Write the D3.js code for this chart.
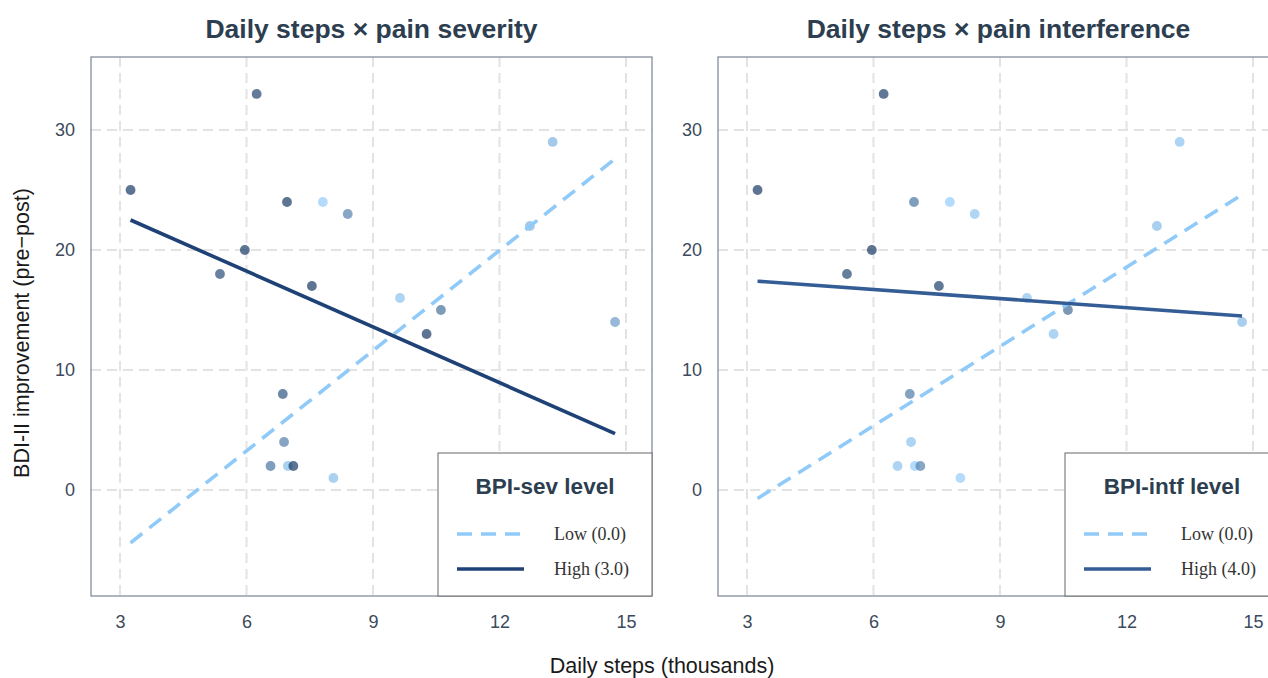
<!DOCTYPE html>
<html>
<head>
<meta charset="utf-8">
<script src="https://cdn.jsdelivr.net/npm/d3@7"></script>
<style>
  body { margin: 0; background: #fff; }
  svg { display: block; }
</style>
</head>
<body>
<svg width="1268" height="678"></svg>
<script>
// input data
const stepsK = [3.25, 5.37, 5.96, 6.24, 6.57, 6.86, 6.89, 6.96, 6.98, 7.11,
  7.55, 7.81, 8.06, 8.4, 9.64, 10.27, 10.61, 12.72, 13.26, 14.74];
const bdiImprovement = [25, 18, 20, 33, 2, 8, 4, 24, 2, 2,
  17, 24, 1, 23, 16, 13, 15, 22, 29, 14];
// moderator levels used to shade the points
const bpiSev = [3, 2.6, 3, 2.8, 1.8, 2.4, 1.6, 3, 0.3, 3,
  3, 0, 0.3, 1.5, 0.2, 3, 1.9, 0.5, 0.5, 1.0];
const bpiIntf = [4, 3.6, 4, 3.8, 0.3, 2.2, 0.3, 2.4, 0, 2,
  3.8, 0, 0, 0.2, 0.3, 0.3, 2.6, 0.5, 0.3, 0.5];

// fitted simple slopes: predicted improvement at the lowest and highest steps
const fitX = [3.25, 14.74];
const sevLowFit = [-4.4, 27.6];
const sevHighFit = [22.5, 4.7];
const intfLowFit = [-0.7, 24.6];
const intfHighFit = [17.4, 14.5];

const xTicks = [3, 6, 9, 12, 15];
const yTicks = [0, 10, 20, 30];
const panelTitles = ['Daily steps × pain severity', 'Daily steps × pain interference'];
const legendTitles = ['BPI-sev level', 'BPI-intf level'];
const sevLevels = ['Low (0.0)', 'High (3.0)'];
const intfLevels = ['Low (0.0)', 'High (4.0)'];

const lightBlue = '#90CAF9';
const sans = '"Liberation Sans", Arial, Helvetica, sans-serif';
const serif = '"Liberation Serif", "Times New Roman", serif';

const points = stepsK.map((x, i) => ({ x, y: bdiImprovement[i], sev: bpiSev[i], intf: bpiIntf[i] }));

const panels = [
  { left: 91, title: panelTitles[0], legend: legendTitles[0], labels: sevLevels,
    key: 'sev', maxLevel: 3, low: sevLowFit, high: sevHighFit, dark: '#1f4276' },
  { left: 718, title: panelTitles[1], legend: legendTitles[1], labels: intfLevels,
    key: 'intf', maxLevel: 4, low: intfLowFit, high: intfHighFit, dark: '#335d94' },
];

const svg = d3.select('svg');
const plotTop = 57;
const plotW = 561;
const plotH = 539;

const x = d3.scaleLinear().domain([2.312, 15.616]).range([0, plotW]);
const y = d3.scaleLinear().domain([-8.83, 36.08]).range([plotH, 0]);

const line = d3.line().x(d => x(d[0])).y(d => y(d[1]));

panels.forEach(p => {
  const g = svg.append('g').attr('transform', `translate(${p.left} ${plotTop})`);

  // grid
  g.append('g')
    .selectAll('line')
    .data(xTicks)
    .join('line')
    .attr('x1', d => x(d)).attr('x2', d => x(d))
    .attr('y1', 0).attr('y2', plotH)
    .attr('stroke', '#e3e3e3')
    .attr('stroke-width', 2)
    .attr('stroke-dasharray', '10 6');
  g.append('g')
    .selectAll('line')
    .data(yTicks)
    .join('line')
    .attr('x1', 0).attr('x2', plotW)
    .attr('y1', d => y(d)).attr('y2', d => y(d))
    .attr('stroke', '#e3e3e3')
    .attr('stroke-width', 2)
    .attr('stroke-dasharray', '10 6');

  // axes (labels only)
  const xAxis = g.append('g')
    .attr('transform', `translate(0 ${plotH})`)
    .call(d3.axisBottom(x).tickValues(xTicks).tickSize(0).tickPadding(19));
  const yAxis = g.append('g')
    .call(d3.axisLeft(y).tickValues(yTicks).tickSize(0).tickPadding(16));
  [xAxis, yAxis].forEach(a => {
    a.select('.domain').remove();
    a.selectAll('text')
      .attr('fill', '#3b4a5c')
      .attr('font-family', sans)
      .attr('font-size', 18);
  });

  // points shaded by moderator level
  const shade = d3.scaleLinear()
    .domain([0, p.maxLevel])
    .range([lightBlue, '#10325f'])
    .interpolate(d3.interpolateRgb)
    .clamp(true);
  g.append('g')
    .selectAll('circle')
    .data(points)
    .join('circle')
    .attr('cx', d => x(d.x))
    .attr('cy', d => y(d.y))
    .attr('r', 4.9)
    .attr('fill', d => shade(d[p.key]))
    .attr('fill-opacity', 0.68);

  // simple slopes
  g.append('path')
    .datum(fitX.map((v, i) => [v, p.low[i]]))
    .attr('d', line)
    .attr('fill', 'none')
    .attr('stroke', lightBlue)
    .attr('stroke-width', 3.6)
    .attr('stroke-dasharray', '15 9');
  g.append('path')
    .datum(fitX.map((v, i) => [v, p.high[i]]))
    .attr('d', line)
    .attr('fill', 'none')
    .attr('stroke', p.dark)
    .attr('stroke-width', 3.6);

  // frame
  g.append('rect')
    .attr('x', 0).attr('y', 0)
    .attr('width', plotW).attr('height', plotH)
    .attr('fill', 'none')
    .attr('stroke', '#7a8494')
    .attr('stroke-width', 1.2);

  // title
  g.append('text')
    .attr('x', plotW / 2)
    .attr('y', -19)
    .attr('text-anchor', 'middle')
    .attr('font-family', sans)
    .attr('font-weight', 'bold')
    .attr('font-size', 26.5)
    .attr('fill', '#2c3e50')
    .text(p.title);

  // legend
  const lg = g.append('g').attr('transform', `translate(${plotW - 214} 396)`);
  lg.append('rect')
    .attr('width', 214).attr('height', 143)
    .attr('fill', '#fff')
    .attr('stroke', '#666')
    .attr('stroke-width', 1);
  lg.append('text')
    .attr('x', 107).attr('y', 41)
    .attr('text-anchor', 'middle')
    .attr('font-family', sans)
    .attr('font-weight', 'bold')
    .attr('font-size', 22.5)
    .attr('fill', '#2c3e50')
    .text(p.legend);
  const rows = [
    { label: p.labels[0], color: lightBlue, dash: '15 9' },
    { label: p.labels[1], color: p.dark, dash: null },
  ];
  rows.forEach((r, i) => {
    const ry = 81 + i * 35;
    lg.append('line')
      .attr('x1', 19).attr('x2', 86)
      .attr('y1', ry).attr('y2', ry)
      .attr('stroke', r.color)
      .attr('stroke-width', 3.6)
      .attr('stroke-dasharray', r.dash);
    lg.append('text')
      .attr('x', 116).attr('y', ry + 6)
      .attr('font-family', serif)
      .attr('font-size', 18)
      .attr('fill', '#333')
      .text(r.label);
  });
});

// shared axis titles
svg.append('text')
  .attr('x', 662).attr('y', 673)
  .attr('text-anchor', 'middle')
  .attr('font-family', sans)
  .attr('font-size', 21.5)
  .attr('fill', '#1a1a1a')
  .text('Daily steps (thousands)');
svg.append('text')
  .attr('transform', 'translate(29 333) rotate(-90)')
  .attr('text-anchor', 'middle')
  .attr('font-family', sans)
  .attr('font-size', 21.5)
  .attr('fill', '#1a1a1a')
  .text('BDI-II improvement (pre\u2212post)');
</script>
</body>
</html>
